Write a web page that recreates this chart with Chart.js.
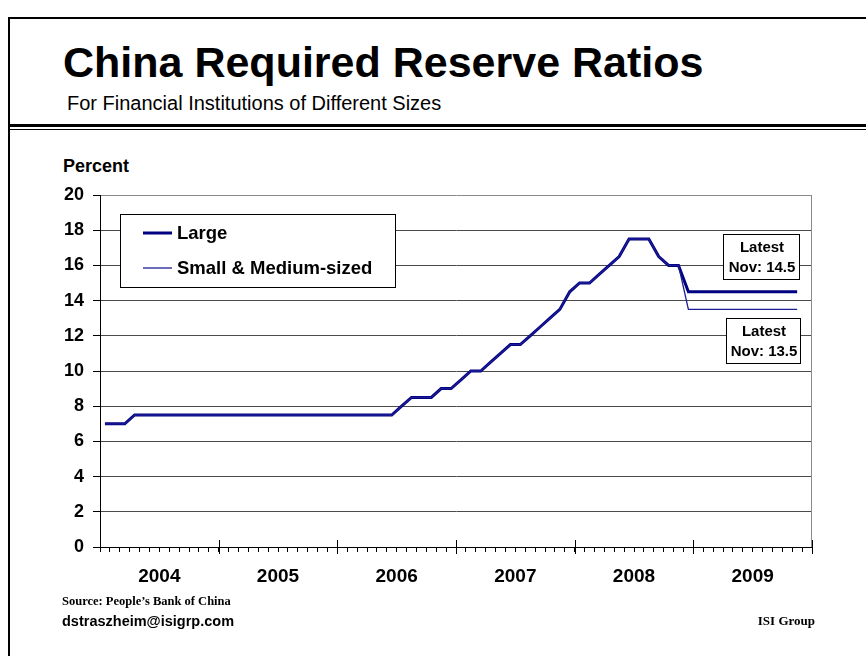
<!DOCTYPE html>
<html>
<head>
<meta charset="utf-8">
<title>China Required Reserve Ratios</title>
<script src="https://cdn.jsdelivr.net/npm/chart.js@4.4.0/dist/chart.umd.min.js"></script>
<style>
    html, body { margin: 0; padding: 0; background: #fff; }
    #page {
        position: relative;
        width: 866px;
        height: 656px;
        overflow: hidden;
        font-family: "Liberation Sans", Arial, sans-serif;
        color: #000;
    }
    #chart { position: absolute; left: 0; top: 0; }
    .frame {
        position: absolute;
        left: 8px; top: 17px;
        width: 900px; height: 700px;
        border-top: 2px solid #000;
        border-left: 2px solid #000;
    }
    .rule-thick { position: absolute; left: 9px; top: 124px; width: 860px; height: 3px; background: #000; }
    .rule-thin  { position: absolute; left: 9px; top: 129px; width: 860px; height: 1px; background: #000; }
    .txt { position: absolute; margin: 0; line-height: 1; white-space: nowrap; }
    #title    { left: 63px; top: 41px; font-size: 43px; font-weight: bold; }
    #subtitle { left: 67px; top: 93px; font-size: 20px; }
    #unit     { left: 63px; top: 157px; font-size: 18px; font-weight: bold; }
    #source   { left: 62px; top: 595px; font-family: "Liberation Serif", "Times New Roman", serif; font-size: 12.5px; font-weight: bold; }
    #email    { left: 62px; top: 614px; font-size: 14.5px; font-weight: bold; }
    #firm     { right: 51px; top: 614px; font-family: "Liberation Serif", "Times New Roman", serif; font-size: 13px; font-weight: bold; }
</style>
</head>
<body>
<div id="page">
    <div class="frame"></div>
    <div class="rule-thick"></div>
    <div class="rule-thin"></div>
    <div class="txt" id="title">China Required Reserve Ratios</div>
    <div class="txt" id="subtitle">For Financial Institutions of Different Sizes</div>
    <div class="txt" id="unit">Percent</div>
    <canvas id="chart" width="866" height="656"></canvas>
    <div class="txt" id="source">Source: People’s Bank of China</div>
    <div class="txt" id="email">dstraszheim@isigrp.com</div>
    <div class="txt" id="firm">ISI Group</div>
</div>

<script>
// Monthly series, Jan 2004 .. Nov 2009
const years = ['2004', '2005', '2006', '2007', '2008', '2009'];
const monthNames = ['Jan', 'Feb', 'Mar', 'Apr', 'May', 'Jun', 'Jul', 'Aug', 'Sep', 'Oct', 'Nov', 'Dec'];

const largeRatio = [
    7.0, 7.0, 7.0, 7.5, 7.5, 7.5, 7.5, 7.5, 7.5, 7.5, 7.5, 7.5,          // 2004
    7.5, 7.5, 7.5, 7.5, 7.5, 7.5, 7.5, 7.5, 7.5, 7.5, 7.5, 7.5,          // 2005
    7.5, 7.5, 7.5, 7.5, 7.5, 7.5, 8.0, 8.5, 8.5, 8.5, 9.0, 9.0,          // 2006
    9.5, 10.0, 10.0, 10.5, 11.0, 11.5, 11.5, 12.0, 12.5, 13.0, 13.5, 14.5, // 2007
    15.0, 15.0, 15.5, 16.0, 16.5, 17.5, 17.5, 17.5, 16.5, 16.0, 16.0, 14.5, // 2008
    14.5, 14.5, 14.5, 14.5, 14.5, 14.5, 14.5, 14.5, 14.5, 14.5, 14.5     // 2009
];

const smallMediumRatio = [
    7.0, 7.0, 7.0, 7.5, 7.5, 7.5, 7.5, 7.5, 7.5, 7.5, 7.5, 7.5,          // 2004
    7.5, 7.5, 7.5, 7.5, 7.5, 7.5, 7.5, 7.5, 7.5, 7.5, 7.5, 7.5,          // 2005
    7.5, 7.5, 7.5, 7.5, 7.5, 7.5, 8.0, 8.5, 8.5, 8.5, 9.0, 9.0,          // 2006
    9.5, 10.0, 10.0, 10.5, 11.0, 11.5, 11.5, 12.0, 12.5, 13.0, 13.5, 14.5, // 2007
    15.0, 15.0, 15.5, 16.0, 16.5, 17.5, 17.5, 17.5, 16.5, 16.0, 16.0, 13.5, // 2008
    13.5, 13.5, 13.5, 13.5, 13.5, 13.5, 13.5, 13.5, 13.5, 13.5, 13.5     // 2009
];

const yTicks = [0, 2, 4, 6, 8, 10, 12, 14, 16, 18, 20];

const FONT = '"Liberation Sans", Arial, sans-serif';
const NAVY = '#000080';
const monthCount = years.length * 12;

// each month sits in the middle of its slot on the linear month axis
function toPoints(values) {
    return values.map((v, i) => ({ x: i + 0.5, y: v }));
}

// "Latest" label text for a series: month of last value and the value itself
function latestLabel(values) {
    const i = values.length - 1;
    return monthNames[i % 12] + ': ' + values[i].toFixed(1);
}

/**
 * Framed legend drawn inside the plot area
 */
const boxLegend = {
    id: 'boxLegend',
    afterDraw(chart, args, opts) {
        const ctx = chart.ctx;
        ctx.save();
        ctx.fillStyle = '#fff';
        ctx.fillRect(opts.left, opts.top, opts.width, opts.height);
        ctx.strokeStyle = '#000';
        ctx.lineWidth = 1;
        ctx.strokeRect(opts.left + 0.5, opts.top + 0.5, opts.width, opts.height);

        ctx.font = 'bold ' + opts.fontSize + 'px ' + FONT;
        ctx.textBaseline = 'middle';
        ctx.textAlign = 'left';
        chart.data.datasets.forEach((ds, i) => {
            const y = opts.top + opts.firstRow + i * opts.rowGap;
            ctx.strokeStyle = ds.borderColor;
            ctx.lineWidth = ds.borderWidth;
            ctx.beginPath();
            ctx.moveTo(opts.left + opts.lineStart, y);
            ctx.lineTo(opts.left + opts.lineStart + opts.lineLength, y);
            ctx.stroke();
            ctx.fillStyle = '#000';
            ctx.fillText(ds.label, opts.left + opts.textStart, y + 1);
        });
        ctx.restore();
    }
};

/**
 * Boxed "Latest" notes at the right end of each series
 */
const latestNotes = {
    id: 'latestNotes',
    afterDraw(chart, args, opts) {
        const ctx = chart.ctx;
        ctx.save();
        opts.boxes.forEach((b) => {
            const values = chart.data.datasets[b.dataset].values;
            ctx.fillStyle = '#fff';
            ctx.fillRect(b.left, b.top, b.width, b.height);
            ctx.strokeStyle = '#000';
            ctx.lineWidth = 1;
            ctx.strokeRect(b.left + 0.5, b.top + 0.5, b.width, b.height);
            ctx.fillStyle = '#000';
            ctx.font = 'bold 15px ' + FONT;
            ctx.textAlign = 'center';
            ctx.textBaseline = 'middle';
            const cx = b.left + b.width / 2 + 1;
            ctx.fillText('Latest', cx, b.top + 14);
            ctx.fillText(latestLabel(values), cx, b.top + 34);
        });
        ctx.restore();
    }
};

/**
 * Right edge of the plot and the year ticks crossing the x axis
 */
const plotFrame = {
    id: 'plotFrame',
    afterDatasetsDraw(chart) {
        const ctx = chart.ctx;
        const area = chart.chartArea;
        const xs = chart.scales.xMonth;
        ctx.save();
        ctx.strokeStyle = '#8a8a8a';
        ctx.lineWidth = 1;
        ctx.beginPath();
        ctx.moveTo(Math.round(area.right) - 0.5, area.top);
        ctx.lineTo(Math.round(area.right) - 0.5, area.bottom);
        ctx.stroke();

        ctx.strokeStyle = '#000';
        ctx.beginPath();
        for (let k = 1; k <= years.length; k++) {
            const x = Math.round(xs.getPixelForValue(k * 12)) + 0.5;
            ctx.moveTo(x, area.bottom - 7);
            ctx.lineTo(x, area.bottom + 7);
        }
        ctx.stroke();
        ctx.restore();
    }
};

const ctx = document.getElementById('chart');

new Chart(ctx, {
    type: 'line',
    data: {
        datasets: [
            {
                label: 'Large',
                data: toPoints(largeRatio),
                values: largeRatio,
                borderColor: NAVY,
                borderWidth: 3,
                pointRadius: 0,
                tension: 0,
                xAxisID: 'xMonth',
                yAxisID: 'y',
                order: 2
            },
            {
                label: 'Small & Medium-sized',
                data: toPoints(smallMediumRatio),
                values: smallMediumRatio,
                borderColor: '#1c1c96',
                borderWidth: 1.3,
                pointRadius: 0,
                tension: 0,
                xAxisID: 'xMonth',
                yAxisID: 'y',
                order: 1
            }
        ]
    },
    options: {
        responsive: false,
        animation: false,
        events: [],
        layout: {
            padding: { left: 60, right: 54, top: 195, bottom: 61 }
        },
        scales: {
            xMonth: {
                type: 'linear',
                position: 'bottom',
                weight: 0,
                min: 0,
                max: monthCount,
                afterBuildTicks(scale) {
                    const t = [];
                    for (let i = 0; i <= monthCount; i++) t.push({ value: i });
                    scale.ticks = t;
                },
                afterFit(scale) { scale.height = 8; },
                ticks: { display: false },
                grid: {
                    drawOnChartArea: false,
                    drawTicks: true,
                    tickLength: 5,
                    color: '#000',
                    tickColor: '#000'
                },
                border: { display: true, color: '#000', width: 1 }
            },
            xYear: {
                type: 'linear',
                position: 'bottom',
                weight: 1,
                min: 0,
                max: monthCount,
                afterBuildTicks(scale) {
                    scale.ticks = years.map((y, i) => ({ value: i * 12 + 6 }));
                },
                afterFit(scale) { scale.height = 40; },
                ticks: {
                    autoSkip: false,
                    maxRotation: 0,
                    padding: 10,
                    color: '#000',
                    font: { family: FONT, size: 19, weight: 'bold' },
                    callback: (value, index) => years[index]
                },
                grid: { display: false, drawTicks: false },
                border: { display: false }
            },
            y: {
                min: 0,
                max: 20,
                afterBuildTicks(scale) {
                    scale.ticks = yTicks.map((v) => ({ value: v }));
                },
                afterFit(scale) { scale.width = 40; },
                ticks: {
                    padding: 9,
                    color: '#000',
                    font: { family: FONT, size: 18, weight: 'bold' }
                },
                grid: {
                    color: (c) => (c.tick && c.tick.value === 20) ? '#8a8a8a' : '#4a4a4a',
                    tickColor: '#000',
                    lineWidth: 1,
                    tickLength: 7
                },
                border: { color: '#000', width: 1 }
            }
        },
        plugins: {
            legend: { display: false },
            tooltip: { enabled: false },
            boxLegend: {
                left: 120, top: 214, width: 275, height: 73,
                firstRow: 19, rowGap: 35,
                lineStart: 23, lineLength: 29, textStart: 57,
                fontSize: 18.5
            },
            latestNotes: {
                boxes: [
                    { dataset: 0, left: 723, top: 234, width: 76, height: 45 },
                    { dataset: 1, left: 726, top: 318, width: 74, height: 45 }
                ]
            }
        }
    },
    plugins: [plotFrame, boxLegend, latestNotes]
});
</script>
</body>
</html>
